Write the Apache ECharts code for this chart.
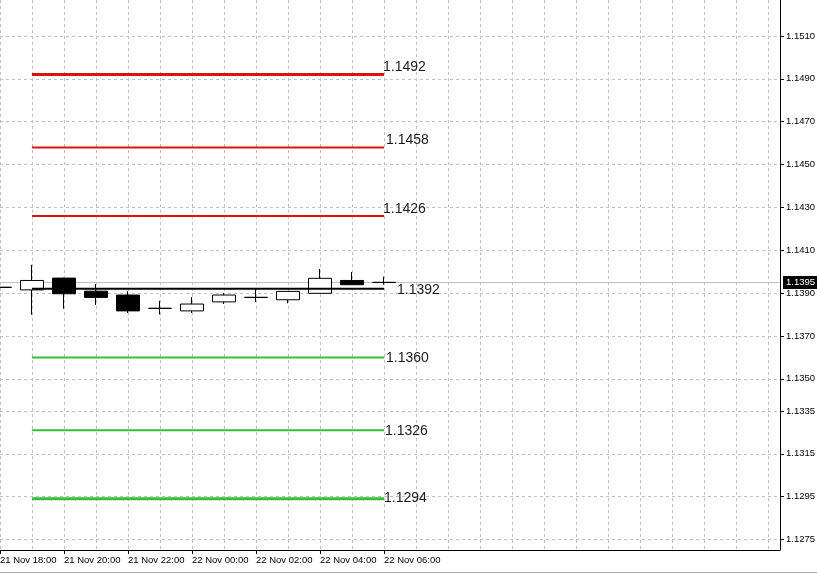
<!DOCTYPE html>
<html><head><meta charset="utf-8">
<script src="https://cdn.jsdelivr.net/npm/echarts@6/dist/echarts.min.js"></script>
<style>html,body{margin:0;padding:0;background:#fff}#c{width:817px;height:575px}</style>
</head><body><div id="c"></div>
<script>
// Hourly candles (index = hours since 21 Nov 18:00)
const times = ['21 Nov 18:00','21 Nov 19:00','21 Nov 20:00','21 Nov 21:00','21 Nov 22:00','21 Nov 23:00',
  '22 Nov 00:00','22 Nov 01:00','22 Nov 02:00','22 Nov 03:00','22 Nov 04:00','22 Nov 05:00','22 Nov 06:00'];
const opens  = [1.13927,1.13915,1.13970,1.13909,1.13891,1.13829,1.13817,1.13859,1.13880,1.13869,1.13899,1.13959,1.13950];
const closes = [1.13927,1.13959,1.13897,1.13880,1.13817,1.13829,1.13849,1.13891,1.13880,1.13908,1.13969,1.13939,1.13950];
const lows   = [1.13927,1.13799,1.13827,1.13845,1.13807,1.13800,1.13807,1.13849,1.13859,1.13853,1.13899,1.13939,1.13939];
const highs  = [1.13927,1.14032,1.13972,1.13943,1.13909,1.13864,1.13881,1.13901,1.13923,1.13909,1.14012,1.13998,1.13977];

const resistanceLevels = [1.1492,1.1458,1.1426];
const pivotLevel = 1.1392;
const supportLevels = [1.1360,1.1326,1.1294];
const currentPrice = 1.1395;
const levelStart = 1, levelEnd = 12;

const yTickValues = [1.1275,1.1295,1.1315,1.1335,1.1350,1.1370,1.1390,1.1410,1.1430,1.1450,1.1470,1.1490,1.1510];
const xTickIndexes = [0,2,4,6,8,10,12];

const FONT = 'Liberation Sans';
const levelDefs = [];
const resStyles = [{w:3,off:[-1,-7]},{w:2,off:[2,-7]},{w:2,off:[-1,-7]}];
const supStyles = [{w:2,off:[2,1]},{w:2,off:[1,1]},{w:3,off:[0,-1]}];
resistanceLevels.forEach((v,i)=>levelDefs.push({v, color:'#e01010', w:resStyles[i].w, off:resStyles[i].off}));
levelDefs.push({v:pivotLevel, color:'#000000', w:2, off:[13,1]});
supportLevels.forEach((v,i)=>levelDefs.push({v, color:'#33c233', w:supStyles[i].w, off:supStyles[i].off}));

const candleData = times.map((t,i)=>[i, opens[i], closes[i], lows[i], highs[i]]);

const levelSeries = levelDefs.map(d=>({
  type:'line', xAxisIndex:0, yAxisIndex:0, symbol:'none', silent:true, z:3,
  data:[[levelStart,d.v],[levelEnd,d.v]],
  lineStyle:{color:d.color,width:d.w},
  endLabel:{show:true, distance:0, offset:d.off, formatter:()=>d.v.toFixed(4),
    fontSize:14, fontFamily:FONT, color:'#1a1a1a', align:'left', verticalAlign:'middle'}
}));

const chart = echarts.init(document.getElementById('c'), null, {renderer:'canvas'});
chart.setOption({
  animation:false,
  backgroundColor:'#ffffff',
  grid:{left:0, right:37, top:0, bottom:25, containLabel:false, outerBoundsMode:'none'},
  xAxis:[{
    type:'value', min:0, max:24.375, position:'bottom',
    axisLine:{show:true, onZero:false, lineStyle:{color:'#000',width:1}},
    axisTick:{show:true, customValues:xTickIndexes, length:4, lineStyle:{color:'#000'}},
    axisLabel:{show:true, customValues:xTickIndexes, formatter:v=>times[v]||'', align:'left',
      margin:5, fontSize:9.5, fontFamily:FONT, color:'#000'},
    splitLine:{show:false}
  },{
    type:'value', min:0, max:24.375, interval:1, position:'top',
    axisLine:{show:false, onZero:false}, axisTick:{show:false}, axisLabel:{show:false},
    splitLine:{show:true, lineStyle:{color:'#c0c0c0', type:[3,3], width:1}}
  }],
  yAxis:{
    type:'value', position:'right', min:1.12701, max:1.15268, scale:true,
    axisLine:{show:true, onZero:false, lineStyle:{color:'#000',width:1}},
    axisTick:{show:true, customValues:yTickValues, length:4, lineStyle:{color:'#000'}},
    axisLabel:{show:true, customValues:yTickValues, formatter:v=>v.toFixed(4), margin:6,
      fontSize:9.5, fontFamily:FONT, color:'#000'},
    splitLine:{show:true, lineStyle:{color:'#c0c0c0', type:[3,3], width:1}}
  },
  series:[{
    type:'candlestick', xAxisIndex:0, yAxisIndex:0, barWidth:24, z:2,
    data:candleData, encode:{x:0, y:[1,2,3,4]},
    itemStyle:{color:'#ffffff', color0:'#000000', borderColor:'#000000', borderColor0:'#000000',
      borderColorDoji:'#000000', borderWidth:1},
    markLine:{silent:true, symbol:['none','none'], z:1, precision:5,
      data:[{yAxis:currentPrice}],
      lineStyle:{color:'#c0c0c0', type:'solid', width:1},
      label:{show:true, position:'end', distance:3, formatter:currentPrice.toFixed(4),
        backgroundColor:'#000', color:'#fff', padding:[2,3,1,3], fontSize:9.5, fontFamily:FONT}
    }
  }].concat(levelSeries),
  graphic:[{type:'line', shape:{x1:0,y1:572.5,x2:817,y2:572.5}, style:{stroke:'#a8a8a8', lineWidth:1}, silent:true}]
});
</script>
</body></html>
